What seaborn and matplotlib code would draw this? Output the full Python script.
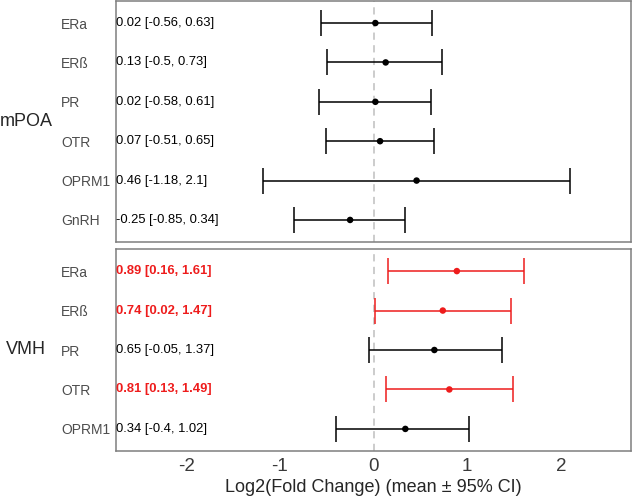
import matplotlib
matplotlib.use("Agg")
import matplotlib.pyplot as plt
import seaborn as sns
import pandas as pd

# data
mpoa_genes = ["ERa", "ERß", "PR", "OTR", "OPRM1", "GnRH"]
mpoa_mean = [0.02, 0.13, 0.02, 0.07, 0.46, -0.25]
mpoa_lo = [-0.56, -0.5, -0.58, -0.51, -1.18, -0.85]
mpoa_hi = [0.63, 0.73, 0.61, 0.65, 2.1, 0.34]

vmh_genes = ["ERa", "ERß", "PR", "OTR", "OPRM1"]
vmh_mean = [0.89, 0.74, 0.65, 0.81, 0.34]
vmh_lo = [0.16, 0.02, -0.05, 0.13, -0.4]
vmh_hi = [1.61, 1.47, 1.37, 1.49, 1.02]

regions = ["mPOA", "VMH"]

sns.set_theme(style="white")
plt.rcParams["font.family"] = ["Liberation Sans", "DejaVu Sans"]

fig = plt.figure(figsize=(6.32, 4.99), dpi=100)
left, right = 116 / 632, 631 / 632
ax1 = fig.add_axes([left, 1 - 242 / 499, right - left, 241 / 499])
ax2 = fig.add_axes([left, 1 - 451 / 499, right - left, 202 / 499])

RED = "#ee1c1c"

for ax, reg, genes, mean, lo, hi in [
    (ax1, regions[0], mpoa_genes, mpoa_mean, mpoa_lo, mpoa_hi),
    (ax2, regions[1], vmh_genes, vmh_mean, vmh_lo, vmh_hi),
]:
    df = pd.DataFrame({"gene": genes, "mean": mean, "lo": lo, "hi": hi})
    df["pos"] = range(len(df))
    df["sig"] = (df["lo"] > 0) | (df["hi"] < 0)
    df["color"] = df["sig"].map({True: RED, False: "black"})

    ax.axvline(0, color="#c8c8c8", ls=(0, (4, 3)), lw=1.3, zorder=0)
    for _, r in df.iterrows():
        ax.errorbar(r["mean"], r["pos"], xerr=[[r["mean"] - r["lo"]], [r["hi"] - r["mean"]]],
                    fmt="none", ecolor=r["color"], elinewidth=1.1, capsize=9.5, capthick=1.1)
        txt = f"{r['mean']:g} [{r['lo']:g}, {r['hi']:g}]"
        ax.text(-2.745, r["pos"], txt, ha="left", va="center", fontsize=9.4,
                color=r["color"], fontweight="bold" if r["sig"] else "normal")
    sns.scatterplot(data=df, x="mean", y="pos", hue="color", palette={RED: RED, "black": "black"},
                    s=22, edgecolor="none", legend=False, ax=ax, zorder=3)

    n = len(df)
    ax.set_ylim(n - 0.44, -0.56)
    ax.set_xlim(-2.75, 2.75)
    ax.set_yticks(range(n))
    ax.set_yticklabels(genes, fontsize=10, color="#4d4d4d")
    for lab in ax.get_yticklabels():
        lab.set_ha("left")
    ax.tick_params(axis="y", length=0, pad=39.5)
    ax.set_ylabel("")
    for s in ax.spines.values():
        s.set_color("#7f7f7f")
        s.set_linewidth(1.1)
    bb = ax.get_position()
    fig.text(26 / 632, (bb.y0 + bb.y1) / 2, reg, ha="center", va="center", fontsize=13)

ax1.set_xticks([])
ax1.set_xlabel("")
ax2.set_xticks([-2, -1, 0, 1, 2])
ax2.set_xticklabels(["-2", "-1", "0", "1", "2"], fontsize=13.5, color="#3a3a3a")
ax2.tick_params(axis="x", length=0, pad=5)
ax2.set_xlabel("Log2(Fold Change) (mean ± 95% CI)", fontsize=13, labelpad=3)

fig.savefig("out.png", dpi=100)
